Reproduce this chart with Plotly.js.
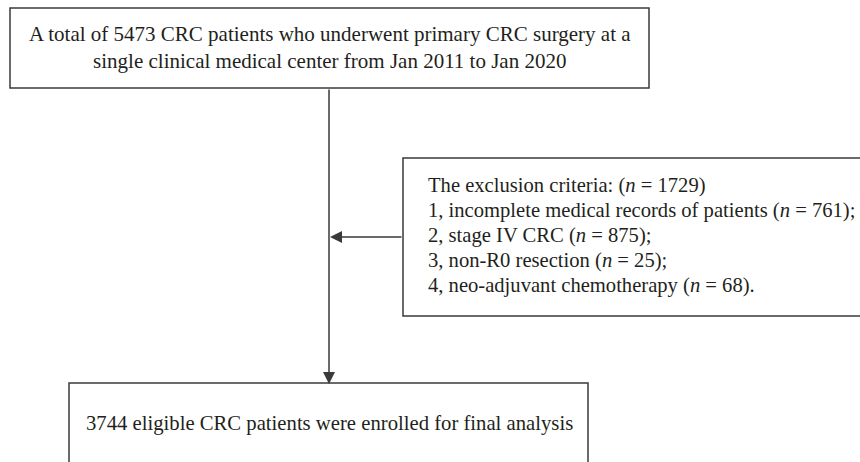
<!DOCTYPE html>
<html>
<head>
<meta charset="utf-8">
<script src="https://cdn.plot.ly/plotly-3.0.1.min.js"></script>
<style>
html,body{margin:0;padding:0;background:#fff;}
#chart{width:860px;height:462px;}
</style>
</head>
<body>
<div id="chart"></div>
<script>
// ---- data ----
const totalPatients = 5473;
const startYear = "Jan 2011";
const endYear = "Jan 2020";
const excludedTotal = 1729;
const exclusionReasons = ["incomplete medical records of patients", "stage IV CRC", "non-R0 resection", "neo-adjuvant chemotherapy"];
const exclusionCounts = [761, 875, 25, 68];
const enrolledPatients = 3744;

// ---- texts built from data ----
const topText = "A total of " + totalPatients + " CRC patients who underwent primary CRC surgery at a<br>single clinical medical center from " + startYear + " to " + endYear;
const exclLines = ["The exclusion criteria: (<i>n</i> = " + excludedTotal + ")"];
exclusionReasons.forEach(function(r, i){
  const end = (i === exclusionReasons.length - 1) ? "." : ";";
  exclLines.push((i + 1) + ", " + r + " (<i>n</i> = " + exclusionCounts[i] + ")" + end);
});
const bottomText = enrolledPatients + " eligible CRC patients were enrolled for final analysis";

const lineColor = "#3a3a3a";
const textColor = "#231f20";
const fontFam = "Liberation Serif, DejaVu Serif, serif";

const boxes = [
  {x0: 10, x1: 649, y0: 8, y1: 88},
  {x0: 403, x1: 880, y0: 158, y1: 316},
  {x0: 69, x1: 588, y0: 383, y1: 520}
];

const shapes = boxes.map(function(b){
  return {type: "rect", xref: "x", yref: "y", x0: b.x0, x1: b.x1, y0: b.y0, y1: b.y1,
          line: {color: lineColor, width: 1.5}, fillcolor: "rgba(0,0,0,0)"};
});

const annotations = [
  {x: 329.5, y: 47, xref: "x", yref: "y", text: topText, showarrow: false,
   xanchor: "center", yanchor: "middle", align: "center",
   font: {family: fontFam, size: 21, color: textColor}},
  {x: 84, y: 423, xref: "x", yref: "y", text: bottomText, showarrow: false,
   xanchor: "left", yanchor: "middle", align: "left",
   font: {family: fontFam, size: 20.7, color: textColor}},
  // vertical arrow
  {x: 329, y: 384, ax: 329, ay: 88, xref: "x", yref: "y", axref: "x", ayref: "y",
   text: "", showarrow: true, arrowhead: 2, arrowsize: 1.6, arrowwidth: 1.5,
   arrowcolor: lineColor, standoff: 0, startstandoff: 0},
  // horizontal arrow
  {x: 330, y: 237, ax: 403, ay: 237, xref: "x", yref: "y", axref: "x", ayref: "y",
   text: "", showarrow: true, arrowhead: 2, arrowsize: 1.6, arrowwidth: 1.5,
   arrowcolor: lineColor, standoff: 0, startstandoff: 0}
];

exclLines.forEach(function(t, i){
  annotations.push({x: 426, y: 185 + i * 25.2, xref: "x", yref: "y", text: t, showarrow: false,
    xanchor: "left", yanchor: "middle", align: "left",
    font: {family: fontFam, size: 20.6, color: textColor}});
});

const layout = {
  width: 860, height: 462,
  margin: {l: 0, r: 0, t: 0, b: 0},
  paper_bgcolor: "#ffffff", plot_bgcolor: "#ffffff",
  xaxis: {range: [0, 860], visible: false, fixedrange: true},
  yaxis: {range: [462, 0], visible: false, fixedrange: true},
  shapes: shapes,
  annotations: annotations,
  showlegend: false
};

Plotly.newPlot("chart", [], layout, {displayModeBar: false, staticPlot: true});
</script>
</body>
</html>
